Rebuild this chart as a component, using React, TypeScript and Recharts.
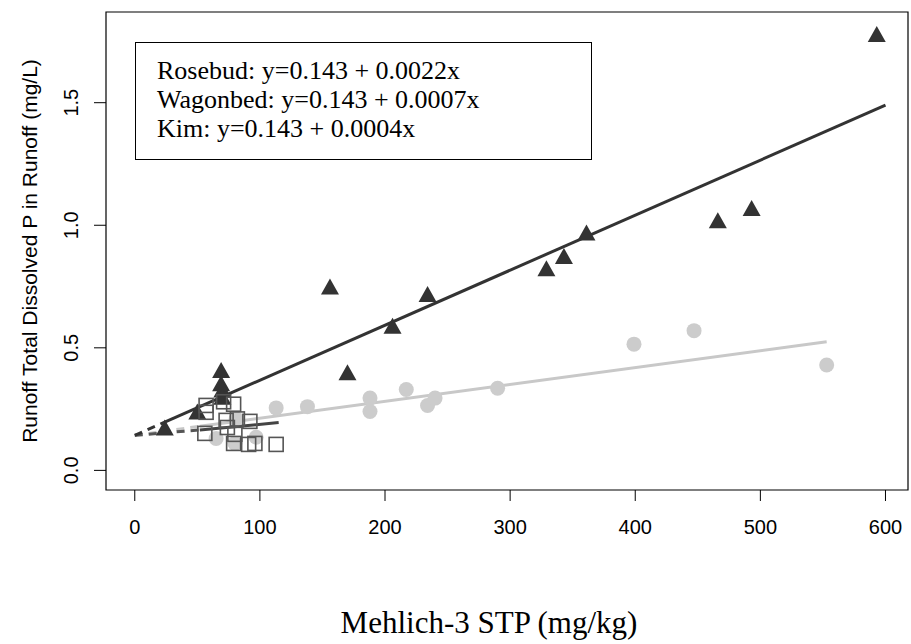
import React from 'react'
import { ScatterChart, Scatter, XAxis, YAxis, ReferenceLine, ReferenceArea, Label } from 'recharts'

// points (STP mg/kg, TDP mg/L)
const rosebud = [
  { x: 24, y: 0.175 }, { x: 50, y: 0.24 }, { x: 69, y: 0.41 }, { x: 69, y: 0.355 },
  { x: 70, y: 0.33 }, { x: 70, y: 0.3 }, { x: 156, y: 0.75 }, { x: 170, y: 0.4 },
  { x: 206, y: 0.59 }, { x: 234, y: 0.72 }, { x: 329, y: 0.825 }, { x: 343, y: 0.875 },
  { x: 361, y: 0.97 }, { x: 466, y: 1.02 }, { x: 493, y: 1.07 }, { x: 593, y: 1.78 },
]

const wagonbed = [
  { x: 65, y: 0.13 }, { x: 80, y: 0.11 }, { x: 81, y: 0.21 }, { x: 97, y: 0.135 },
  { x: 113, y: 0.255 }, { x: 138, y: 0.26 }, { x: 188, y: 0.24 }, { x: 188, y: 0.295 },
  { x: 217, y: 0.33 }, { x: 234, y: 0.265 }, { x: 240, y: 0.295 }, { x: 290, y: 0.335 },
  { x: 399, y: 0.515 }, { x: 447, y: 0.57 }, { x: 553, y: 0.43 },
]

const kim = [
  { x: 56, y: 0.151 }, { x: 57, y: 0.265 }, { x: 57, y: 0.237 }, { x: 71, y: 0.28 },
  { x: 79, y: 0.27 }, { x: 73, y: 0.204 }, { x: 74, y: 0.175 }, { x: 82, y: 0.21 },
  { x: 92, y: 0.2 }, { x: 79, y: 0.11 }, { x: 80, y: 0.147 }, { x: 91, y: 0.106 },
  { x: 96, y: 0.11 }, { x: 113, y: 0.106 },
]

// fitted lines: dashed part from x=0, solid over the data range
const rosebudDash = [{ x: 0, y: 0.143 }, { x: 23, y: 0.195 }]
const rosebudFit = [{ x: 23, y: 0.195 }, { x: 600, y: 1.49 }]
const wagonbedDash = [{ x: 0, y: 0.143 }, { x: 52, y: 0.18 }]
const wagonbedFit = [{ x: 52, y: 0.18 }, { x: 553, y: 0.525 }]
const kimDash = [{ x: 0, y: 0.143 }, { x: 52, y: 0.165 }]
const kimFit = [{ x: 52, y: 0.165 }, { x: 115, y: 0.195 }]

const xTicks = [0, 100, 200, 300, 400, 500, 600]
const yTicks = [0, 0.5, 1.0, 1.5]
const equations = [
  'Rosebud: y=0.143 + 0.0022x',
  'Wagonbed: y=0.143 + 0.0007x',
  'Kim: y=0.143 + 0.0004x',
]

const sans = 'Liberation Sans, Arial, sans-serif'
const serif = 'Liberation Serif, Times New Roman, serif'

const Triangle = (props: any) => {
  const { cx, cy } = props
  return <path d={`M${cx},${cy - 8} L${cx + 9},${cy + 8} L${cx - 9},${cy + 8} Z`} fill="#333333" />
}

const Dot = (props: any) => <circle cx={props.cx} cy={props.cy} r={7.5} fill="#cccccc" />

const Square = (props: any) => (
  <rect x={props.cx - 7} y={props.cy - 7} width={14} height={14} fill="none" stroke="#555555" strokeWidth={1.6} />
)

const YTick = (props: any) => {
  const { x, y, payload } = props
  return (
    <text x={x} y={y} transform={`rotate(-90, ${x}, ${y})`} textAnchor="middle" fontFamily={sans} fontSize={20} fill="#000">
      {payload.value.toFixed(1)}
    </text>
  )
}

const YTitle = (props: any) => {
  const { viewBox } = props
  const cy = viewBox.y + viewBox.height / 2
  return (
    <text x={37} y={cy} transform={`rotate(-90, 37, ${cy})`} textAnchor="middle" fontFamily={sans} fontSize={21} fill="#000">
      Runoff Total Dissolved P in Runoff (mg/L)
    </text>
  )
}

// the x title sits a little left of the plot centre in the original
const XTitle = () => (
  <text x={489} y={633} textAnchor="middle" fontFamily={serif} fontSize={31} fill="#000">
    Mehlich-3 STP (mg/kg)
  </text>
)

export default function App() {
  return (
    <div style={{ position: 'absolute', left: 0, top: 0, width: 911, height: 644, background: '#fff' }}>
      <ScatterChart width={911} height={644} margin={{ top: 12, right: 3, left: 0, bottom: 0 }}>
        <XAxis
          type="number"
          dataKey="x"
          domain={[-23, 618]}
          ticks={xTicks}
          allowDataOverflow
          axisLine={false}
          tickLine={{ stroke: '#000' }}
          tickSize={11}
          tickMargin={19}
          height={154}
          tick={{ fontFamily: sans, fontSize: 20, fill: '#000' }}
        >
          <Label content={<XTitle />} />
        </XAxis>
        <YAxis
          type="number"
          dataKey="y"
          domain={[-0.08, 1.87]}
          ticks={yTicks}
          allowDataOverflow
          axisLine={false}
          tickLine={{ stroke: '#000' }}
          tickSize={12}
          tickMargin={16}
          width={106}
          tick={<YTick />}
        >
          <Label content={<YTitle />} />
        </YAxis>
        <ReferenceArea x1={-23} x2={618} y1={-0.08} y2={1.87} fill="none" stroke="#000" strokeWidth={1.2} fillOpacity={0} />
        <Scatter data={wagonbed} shape={<Dot />} isAnimationActive={false} />
        <Scatter data={rosebud} shape={<Triangle />} isAnimationActive={false} />
        <Scatter data={kim} shape={<Square />} isAnimationActive={false} />
        <ReferenceLine segment={wagonbedDash} stroke="#c8c8c8" strokeWidth={3} strokeDasharray="8 6" />
        <ReferenceLine segment={kimDash} stroke="#555555" strokeWidth={3} strokeDasharray="8 6" />
        <ReferenceLine segment={rosebudDash} stroke="#333333" strokeWidth={3} strokeDasharray="8 6" />
        <ReferenceLine segment={wagonbedFit} stroke="#c8c8c8" strokeWidth={3} />
        <ReferenceLine segment={kimFit} stroke="#444444" strokeWidth={3} />
        <ReferenceLine segment={rosebudFit} stroke="#333333" strokeWidth={3} />
      </ScatterChart>
      <div
        style={{
          position: 'absolute', left: 135, top: 42, width: 457, height: 118,
          border: '1.5px solid #000', fontFamily: serif, fontSize: 26, lineHeight: '29px',
          paddingLeft: 21, paddingTop: 13, boxSizing: 'border-box', color: '#000',
        }}
      >
        {equations.map(e => <div key={e}>{e}</div>)}
      </div>
    </div>
  )
}
